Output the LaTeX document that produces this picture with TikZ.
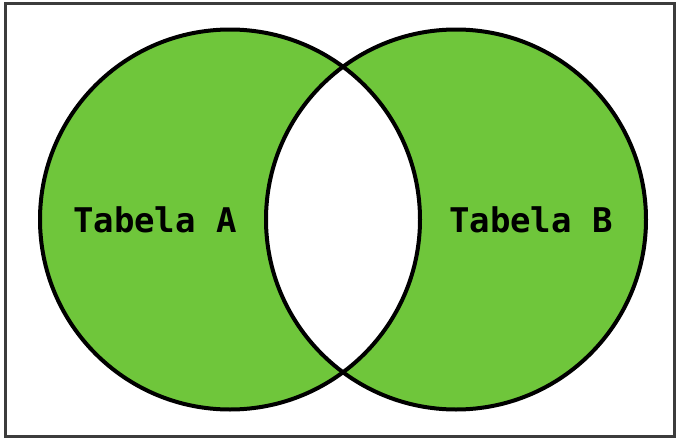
\documentclass[tikz,border=0pt]{standalone}
\usepackage{fontspec}
\newfontfamily\monofont{DejaVu Sans Mono}
\usetikzlibrary{positioning}
\definecolor{setgreen}{RGB}{111,198,59}
\definecolor{frame}{RGB}{60,60,60}

\begin{document}
\begin{tikzpicture}[
  x=1pt, y=-1pt,
  font=\monofont\bfseries\fontsize{34}{40}\selectfont,
  ring/.style={circle, draw=black, line width=4pt, minimum size=380pt, inner sep=0pt},
  setlabel/.style={inner sep=0pt, text=black},
]
\useasboundingbox (0,0) rectangle (677,439);
\draw[frame, line width=3pt, fill=white] (5.5,3) rectangle (674,436);
% symmetric difference in green
\fill[setgreen, even odd rule] (230,219.5) circle (190pt) (456,219.5) circle (190pt);
\node[ring] (tabA) at (230,219.5) {};
\node[ring] (tabB) at (456,219.5) {};
\node[setlabel] (labA) at (155,220) {Tabela A};
\node[setlabel] (labB) at (531,220) {Tabela B};
\end{tikzpicture}
\end{document}
